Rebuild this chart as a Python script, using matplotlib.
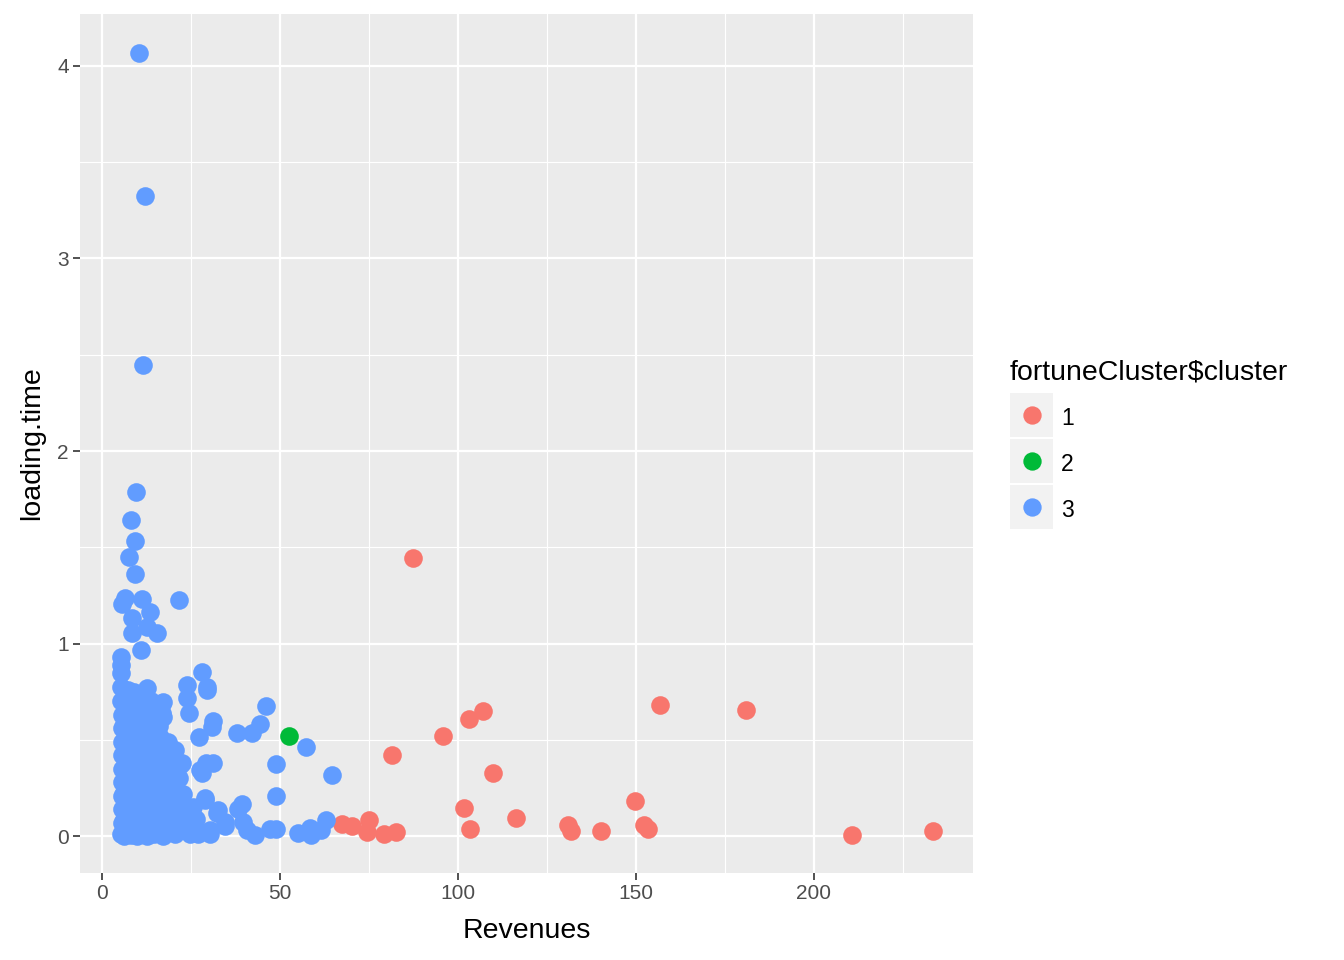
import numpy as np
import matplotlib
matplotlib.use("Agg")
import matplotlib.pyplot as plt
from matplotlib.patches import Rectangle
from matplotlib.lines import Line2D

plt.rcParams['font.family'] = ['Liberation Sans', 'DejaVu Sans']

# cluster 1 (red)
rev_1 = [87.3, 81.6, 95.9, 103.2, 106.9, 109.7, 101.6, 103.3, 116.2, 131.0, 131.7, 140.3,
         149.6, 152.4, 153.3, 156.8, 180.9, 210.8, 233.5, 67.5, 70.2, 75.0, 74.5, 79.2, 82.6]
load_1 = [1.442, 0.419, 0.518, 0.606, 0.648, 0.326, 0.144, 0.035, 0.092, 0.055, 0.028, 0.024,
          0.180, 0.057, 0.035, 0.679, 0.653, 0.004, 0.024, 0.061, 0.052, 0.083, 0.022, 0.010, 0.022]

# cluster 2 (green)
rev_2 = [52.5]
load_2 = [0.518]

# cluster 3 (blue) - outliers and mid range
rev_3a = [10.5, 12.2, 11.6, 9.6, 8.1, 9.2, 7.6, 9.2, 21.7, 6.4, 5.5, 11.1, 13.4, 8.3, 8.3,
          15.3, 12.5, 11.0, 5.3, 5.3, 5.4, 5.3, 12.6,
          28.0, 29.4, 29.6, 23.8, 23.8, 24.3, 46.0, 31.3, 30.9, 27.1, 37.8, 42.0, 44.3,
          57.4, 48.8, 64.6, 48.8, 39.2, 38.2, 29.3, 31.2, 27.5, 28.9, 32.6, 63.0, 58.3,
          55.0, 58.8, 49.0, 47.1, 42.9, 39.6, 40.6, 34.5, 30.3, 27.0, 20.9, 16.2, 34.6,
          32.2, 28.9, 28.0, 61.5, 17.2, 17.2, 16.3, 20.5, 22.4]
load_3a = [4.066, 3.325, 2.447, 1.787, 1.640, 1.530, 1.448, 1.360, 1.226, 1.235, 1.205, 1.230,
           1.165, 1.131, 1.053, 1.053, 1.087, 0.966, 0.930, 0.890, 0.847, 0.776, 0.767,
           0.853, 0.776, 0.758, 0.784, 0.717, 0.637, 0.675, 0.600, 0.567, 0.516, 0.533, 0.537,
           0.582, 0.464, 0.372, 0.315, 0.208, 0.164, 0.140, 0.377, 0.377, 0.343, 0.196,
           0.135, 0.083, 0.040, 0.014, 0.005, 0.035, 0.035, 0.005, 0.074, 0.031, 0.050,
           0.010, 0.012, 0.020, 0.020, 0.074, 0.119, 0.187, 0.327, 0.030, 0.698, 0.620,
           0.516, 0.447, 0.377]

# cluster 3 (blue) - dense block of smaller companies
rev_3b = [5.4, 5.8, 6.2, 6.7, 7.1, 7.6, 8.0, 8.5, 9.1, 9.7, 10.3, 11.0, 11.8, 12.5, 13.4,
          14.6, 15.9, 17.2, 18.8, 20.5, 22.3, 24.6, 27.1, 30.4,
          5.5, 6.1, 6.9, 7.7, 8.6, 9.4, 10.5, 11.6, 12.9, 14.2, 15.8, 17.5, 19.6, 21.9, 24.0, 26.3,
          5.6, 6.4, 7.3, 8.2, 9.3, 10.4, 11.7, 13.1, 14.8, 16.6, 18.7, 20.9, 23.2, 25.5,
          5.5, 6.3, 7.2, 8.1, 9.0, 10.1, 11.4, 12.8, 14.4, 16.2, 18.3, 20.6, 22.8,
          5.7, 6.6, 7.5, 8.5, 9.6, 10.9, 12.3, 13.9, 15.6, 17.8, 20.1, 21.5,
          5.6, 6.5, 7.4, 8.4, 9.5, 10.8, 12.2, 13.8, 15.5, 17.6, 19.8, 22.0,
          5.5, 6.4, 7.3, 8.3, 9.4, 10.7, 12.0, 13.5, 15.2, 17.1, 20.0,
          5.6, 6.5, 7.6, 8.7, 9.9, 11.2, 12.6, 14.3, 16.1, 18.6,
          5.5, 6.3, 7.4, 8.6, 9.8, 11.3, 12.9, 14.7, 16.0,
          5.6, 6.6, 7.8, 9.1, 10.6, 12.3, 14.5, 16.8,
          5.4, 6.9, 8.4, 10.2, 11.9, 13.8, 16.9,
          9.0, 7.2, 10.4]
load_3b = [0.010, 0.020, 0.000, 0.030, 0.010, 0.020, 0.005, 0.025, 0.010, 0.000, 0.020, 0.030,
           0.010, 0.000, 0.020, 0.010, 0.030, 0.000, 0.020, 0.010, 0.030, 0.010, 0.020, 0.030,
           0.070, 0.090, 0.060, 0.080, 0.100, 0.070, 0.090, 0.060, 0.080, 0.100, 0.070, 0.090,
           0.060, 0.080, 0.070, 0.090,
           0.140, 0.160, 0.130, 0.150, 0.170, 0.140, 0.160, 0.130, 0.150, 0.170, 0.140, 0.160,
           0.130, 0.150,
           0.210, 0.230, 0.200, 0.220, 0.240, 0.210, 0.230, 0.200, 0.220, 0.240, 0.210, 0.230,
           0.220,
           0.280, 0.300, 0.270, 0.290, 0.310, 0.280, 0.300, 0.270, 0.290, 0.310, 0.280, 0.300,
           0.350, 0.370, 0.340, 0.360, 0.380, 0.350, 0.370, 0.340, 0.360, 0.380, 0.350, 0.370,
           0.420, 0.440, 0.410, 0.430, 0.450, 0.420, 0.440, 0.410, 0.430, 0.450, 0.420,
           0.490, 0.510, 0.480, 0.500, 0.520, 0.490, 0.510, 0.480, 0.500, 0.490,
           0.560, 0.580, 0.550, 0.570, 0.590, 0.560, 0.580, 0.550, 0.570,
           0.630, 0.650, 0.620, 0.640, 0.660, 0.630, 0.650, 0.640,
           0.700, 0.720, 0.690, 0.710, 0.730, 0.700, 0.690,
           0.750, 0.760, 0.740]

rev_3 = rev_3a + rev_3b
load_3 = load_3a + load_3b

clusters = ["1", "2", "3"]
colors = ["#F8766D", "#00BA38", "#619CFF"]
x_ticks = [0, 50, 100, 150, 200]
y_ticks = [0, 1, 2, 3, 4]

W, H = 1344, 960
fig = plt.figure(figsize=(W / 100, H / 100), dpi=100)
ax = fig.add_axes([80 / W, 1 - 873 / H, (973 - 80) / W, (873 - 14) / H])
ax.set_facecolor("#EBEBEB")
for s in ax.spines.values():
    s.set_visible(False)

msize = 180
ax.scatter(rev_1, load_1, s=msize, c=colors[0], linewidths=0, zorder=3)
ax.scatter(rev_2, load_2, s=msize, c=colors[1], linewidths=0, zorder=3)
ax.scatter(rev_3, load_3, s=msize, c=colors[2], linewidths=0, zorder=3)

ax.set_xlim(-6.2, 244.7)
ax.set_ylim(-0.192, 4.27)
ax.set_xticks(x_ticks)
ax.set_yticks(y_ticks)
ax.set_xticks([25, 75, 125, 175, 225], minor=True)
ax.set_yticks([0.5, 1.5, 2.5, 3.5], minor=True)
ax.grid(which="major", color="white", linewidth=1.6, zorder=1)
ax.grid(which="minor", color="white", linewidth=0.8, zorder=1)
ax.set_axisbelow(True)
ax.tick_params(which="major", length=5, width=1.2, color="#333333",
               labelcolor="#4D4D4D", labelsize=15, pad=3)
ax.tick_params(which="minor", length=0)

ax.set_xlabel("Revenues", fontsize=20.5, color="black", labelpad=11)
ax.set_ylabel("loading.time", fontsize=20.5, color="black", labelpad=9)

# legend drawn by hand, ggplot style
def fx(px):
    return px / W

def fy(py):
    return 1 - py / H

fig.text(fx(1010), fy(372), r"fortuneCluster\$cluster", fontsize=20.5,
         ha="left", va="center")
key_tops = [393, 439, 485]
for lab, col, top in zip(clusters, colors, key_tops):
    fig.add_artist(Rectangle((fx(1010), fy(top + 44)), 43 / W, 44 / H,
                             transform=fig.transFigure, facecolor="#F2F2F2",
                             edgecolor="none"))
    fig.add_artist(Line2D([fx(1032)], [fy(top + 22)], marker="o", markersize=13.2,
                          color=col, markeredgewidth=0, transform=fig.transFigure))
    fig.text(fx(1061), fy(top + 32), lab, fontsize=16.5, ha="left", va="baseline")

fig.savefig("out.png", dpi=100)
